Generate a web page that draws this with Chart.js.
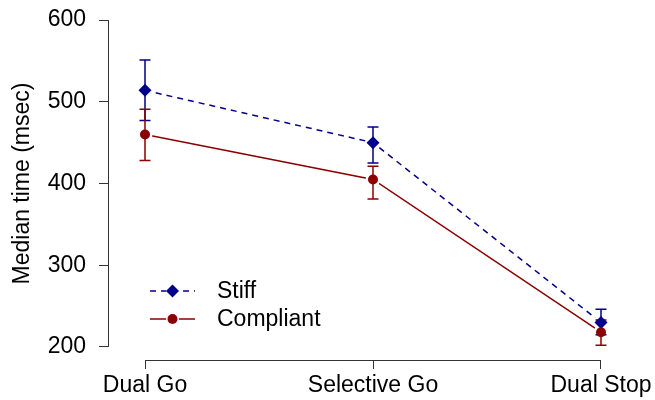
<!DOCTYPE html>
<html><head><meta charset="utf-8">
<script src="https://cdn.jsdelivr.net/npm/chart.js@4"></script>
<style>html,body{margin:0;padding:0;background:#fff}#wrap{width:655px;height:400px;position:relative}</style>
</head><body><div id="wrap"><canvas id="c"></canvas></div>
<script>
const categories = ['Dual Go', 'Selective Go', 'Dual Stop'];
const yTicks = [200, 300, 400, 500, 600];
const seriesNames = ['Stiff', 'Compliant'];
const stiffMedian = [514, 450, 230];
const stiffLow = [477, 425, 215];
const stiffHigh = [551, 469, 246];
const compliantMedian = [460, 405, 218];
const compliantLow = [428, 381, 202];
const compliantHigh = [491, 421, 233];

const BLUE = '#00008b', RED = '#8b0000';
const FONT = "'Liberation Sans', Arial, Helvetica, sans-serif";
const toPts = arr => arr.map((v, i) => ({x: i, y: v}));

const series = [
  {name: seriesNames[0], med: stiffMedian, lo: stiffLow, hi: stiffHigh, color: BLUE, dash: [6, 5], style: 'rectRot', r: 6.5},
  {name: seriesNames[1], med: compliantMedian, lo: compliantLow, hi: compliantHigh, color: RED, dash: [], style: 'circle', r: 5}
];

const extras = {
  id: 'extras',
  beforeDatasetDraw(chart, args) {
    if (args.index !== 2) return;
    const ctx = chart.ctx, xs = chart.scales.x, ys = chart.scales.y;
    ctx.save();
    ctx.fillStyle = '#fff';
    series.forEach(s => s.med.forEach((v, i) => {
      ctx.beginPath();
      ctx.arc(xs.getPixelForValue(i), ys.getPixelForValue(v), 7.5, 0, Math.PI * 2);
      ctx.fill();
    }));
    ctx.lineWidth = 1.5;
    series.forEach(s => {
      ctx.strokeStyle = s.color;
      s.med.forEach((v, i) => {
        const x = xs.getPixelForValue(i);
        const y1 = ys.getPixelForValue(s.lo[i]), y2 = ys.getPixelForValue(s.hi[i]);
        ctx.beginPath();
        ctx.moveTo(x, y1); ctx.lineTo(x, y2);
        ctx.moveTo(x - 5.5, y1); ctx.lineTo(x + 5.5, y1);
        ctx.moveTo(x - 5.5, y2); ctx.lineTo(x + 5.5, y2);
        ctx.stroke();
      });
    });
    ctx.restore();
  },
  afterDraw(chart) {
    const ctx = chart.ctx, xs = chart.scales.x, ys = chart.scales.y, ca = chart.chartArea;
    ctx.save();
    ctx.strokeStyle = '#333';
    ctx.lineWidth = 1;
    ctx.beginPath();
    const yl = Math.round(ca.left) + 0.5;
    ctx.moveTo(yl, ys.getPixelForValue(yTicks[0]));
    ctx.lineTo(yl, ys.getPixelForValue(yTicks[yTicks.length - 1]));
    const xb = Math.round(ca.bottom) + 0.5;
    ctx.moveTo(xs.getPixelForValue(0), xb);
    ctx.lineTo(xs.getPixelForValue(categories.length - 1), xb);
    ctx.stroke();
    const ly = [291, 319];
    series.forEach((s, k) => {
      const y = ly[k];
      ctx.strokeStyle = s.color;
      ctx.lineWidth = 1.5;
      ctx.setLineDash(s.dash);
      ctx.beginPath();
      ctx.moveTo(150, y); ctx.lineTo(195, y);
      ctx.stroke();
      ctx.setLineDash([]);
      ctx.fillStyle = '#fff';
      ctx.beginPath(); ctx.arc(172.5, y, 6.5, 0, Math.PI * 2); ctx.fill();
      ctx.fillStyle = s.color;
      ctx.strokeStyle = s.color;
      Chart.helpers.drawPoint(ctx, {pointStyle: s.style, radius: s.r, borderWidth: 0}, 172.5, y);
      ctx.fillStyle = '#000';
      ctx.font = '23px ' + FONT;
      ctx.textBaseline = 'middle';
      ctx.textAlign = 'left';
      ctx.fillText(s.name, 217, y + 1);
    });
    ctx.restore();
  }
};

new Chart(document.getElementById('c'), {
  type: 'line',
  data: {
    datasets: [
      {label: seriesNames[0], data: toPts(stiffMedian), borderColor: BLUE, borderDash: [6, 5], borderWidth: 1.5, pointRadius: 0, order: 4},
      {label: seriesNames[1], data: toPts(compliantMedian), borderColor: RED, borderWidth: 1.5, pointRadius: 0, order: 3},
      {label: seriesNames[0] + ' pts', data: toPts(stiffMedian), showLine: false, pointStyle: 'rectRot', pointRadius: 6.5, backgroundColor: BLUE, borderColor: BLUE, borderWidth: 0, order: 2},
      {label: seriesNames[1] + ' pts', data: toPts(compliantMedian), showLine: false, pointStyle: 'circle', pointRadius: 5, backgroundColor: RED, borderColor: RED, borderWidth: 0, order: 1}
    ]
  },
  options: {
    responsive: true,
    maintainAspectRatio: false,
    animation: false,
    events: [],
    layout: {padding: {left: 0, top: 7, right: 17, bottom: 0}},
    plugins: {legend: {display: false}, tooltip: {enabled: false}},
    scales: {
      x: {
        type: 'linear',
        min: -0.1623, max: 2.1623,
        afterBuildTicks: s => { s.ticks = categories.map((c, i) => ({value: i})); },
        afterFit: s => { s.height = 40; s.paddingLeft = 0; s.paddingRight = 0; },
        ticks: {
          callback: v => categories[v] !== undefined ? categories[v] : '',
          autoSkip: false, maxRotation: 0, minRotation: 0,
          color: '#000', padding: 3,
          font: {family: FONT, size: 23}
        },
        grid: {drawOnChartArea: false, drawTicks: true, tickLength: 9, color: '#333', lineWidth: 1},
        border: {display: false}
      },
      y: {
        type: 'linear',
        min: 184, max: 616,
        afterBuildTicks: s => { s.ticks = yTicks.map(v => ({value: v})); },
        afterFit: s => { s.width = 108; s.paddingTop = 0; s.paddingBottom = 0; },
        ticks: {color: '#000', padding: 13, font: {family: FONT, size: 23}},
        grid: {drawOnChartArea: false, drawTicks: true, tickLength: 9, color: '#333', lineWidth: 1},
        border: {display: false},
        title: {display: true, text: 'Median time (msec)', color: '#000', font: {family: FONT, size: 23}, padding: {top: 9, bottom: 0}}
      }
    }
  },
  plugins: [extras]
});
</script>
</body></html>
